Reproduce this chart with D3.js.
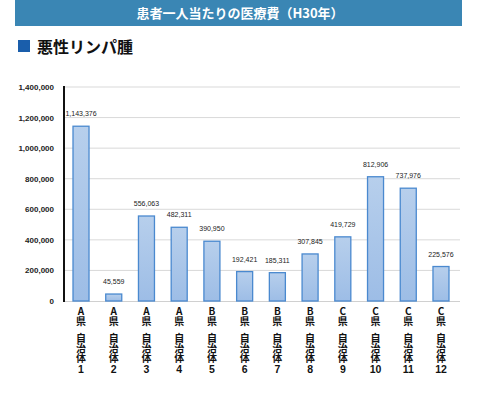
<!DOCTYPE html>
<html><head><meta charset="utf-8">
<script src="https://cdn.jsdelivr.net/npm/d3@7/dist/d3.min.js"></script>
<style>body{margin:0;background:#fff;}svg{display:block;}
.vt{writing-mode:vertical-rl;text-orientation:upright;}</style>
</head><body>
<svg id="c" width="480" height="397"></svg>
<script>
const title = "患者一人当たりの医療費（H30年）";
const subtitle = "悪性リンパ腫";
const prefectures = ["A","A","A","A","B","B","B","B","C","C","C","C"];
const municipalities = ["1","2","3","4","5","6","7","8","9","10","11","12"];
const values = [1143376,45559,556063,482311,390950,192421,185311,307845,419729,812906,737976,225576];
const yTicks = [0,200000,400000,600000,800000,1000000,1200000,1400000];

const svg = d3.select("#c");
const defs = svg.append("defs");
const grad = defs.append("linearGradient").attr("id","g").attr("x1",0).attr("y1",0).attr("x2",0).attr("y2",1);
grad.append("stop").attr("offset","0%").attr("stop-color","#b7cfec");
grad.append("stop").attr("offset","100%").attr("stop-color","#9dbde6");

// header
svg.append("rect").attr("x",15).attr("y",0).attr("width",447).attr("height",26).attr("fill","#3a86b4");
svg.append("text").attr("x",240).attr("y",18).attr("text-anchor","middle")
  .attr("fill","#fff").attr("font-family","'Noto Sans CJK JP'").attr("font-size",13).attr("font-weight","bold").text(title);
svg.append("rect").attr("x",18).attr("y",40).attr("width",12).attr("height",12).attr("fill","#1a5eab");
svg.append("text").attr("x",37).attr("y",52.5).attr("fill","#111")
  .attr("font-family","'Noto Sans CJK JP'").attr("font-size",16).attr("font-weight","bold").text(subtitle);

const x0 = 64, x1 = 458, yTop = 87, yBot = 301;
const x = d3.scaleBand().domain(values.map((d,i)=>i)).range([x0,x1]).paddingInner(0.48).paddingOuter(0.26);
const y = d3.scaleLinear().domain([0,1400000]).range([yBot,yTop]);

// grid
svg.append("g").selectAll("line").data(yTicks.filter(d=>d>0)).join("line")
  .attr("x1",x0).attr("x2",460).attr("y1",d=>y(d)).attr("y2",d=>y(d))
  .attr("stroke","#d9d9d9").attr("stroke-width",1);

// y axis
const yAxis = d3.axisLeft(y).tickValues(yTicks).tickFormat(d3.format(",")).tickSize(0).tickPadding(10);
const ga = svg.append("g").attr("transform",`translate(${x0},0)`).call(yAxis);
ga.select(".domain").remove();
ga.selectAll("text").attr("font-family","'Liberation Sans', Arial").attr("font-size",8).attr("font-weight","bold").attr("fill","#222");

// x axis line
svg.append("line").attr("x1",x0).attr("x2",460).attr("y1",yBot+0.5).attr("y2",yBot+0.5).attr("stroke","#d0d0d0");
svg.append("line").attr("x1",x0).attr("x2",x0).attr("y1",yTop-1).attr("y2",yBot+1).attr("stroke","#111").attr("stroke-width",2);

// bars
svg.append("g").selectAll("rect").data(values).join("rect")
  .attr("x",(d,i)=>x(i)+0.5).attr("y",d=>y(d)).attr("width",x.bandwidth()-1).attr("height",d=>yBot-y(d))
  .attr("fill","url(#g)").attr("stroke","#4a89cf").attr("stroke-width",1.3);

// value labels
svg.append("g").selectAll("text").data(values).join("text")
  .attr("x",(d,i)=>x(i)+x.bandwidth()/2).attr("y",d=>y(d)-10).attr("text-anchor","middle")
  .attr("font-family","'Liberation Sans', Arial").attr("font-size",7).attr("fill","#222")
  .text(d=>d3.format(",")(d));

// x labels: vertical text for "A県" and "自治体", horizontal number
const cx = i => x(i)+x.bandwidth()/2;
const lab = svg.append("g").attr("fill","#111").attr("font-weight","bold");
lab.selectAll("text.p").data(values).join("text").attr("class","p vt")
  .attr("x",(d,i)=>cx(i)).attr("y",306.5)
  .attr("font-family","'Noto Sans CJK JP'").attr("font-size",10)
  .text((d,i)=>prefectures[i]+"県");
lab.selectAll("text.m").data(values).join("text").attr("class","m vt")
  .attr("x",(d,i)=>cx(i)).attr("y",333)
  .attr("font-family","'Noto Sans CJK JP'").attr("font-size",10)
  .text("自治体");
lab.selectAll("text.n").data(values).join("text").attr("class","n")
  .attr("x",(d,i)=>cx(i)).attr("y",372.8).attr("text-anchor","middle")
  .attr("font-family","'Liberation Sans', Arial").attr("font-size",10.5)
  .text((d,i)=>municipalities[i]);
</script>
</body></html>
